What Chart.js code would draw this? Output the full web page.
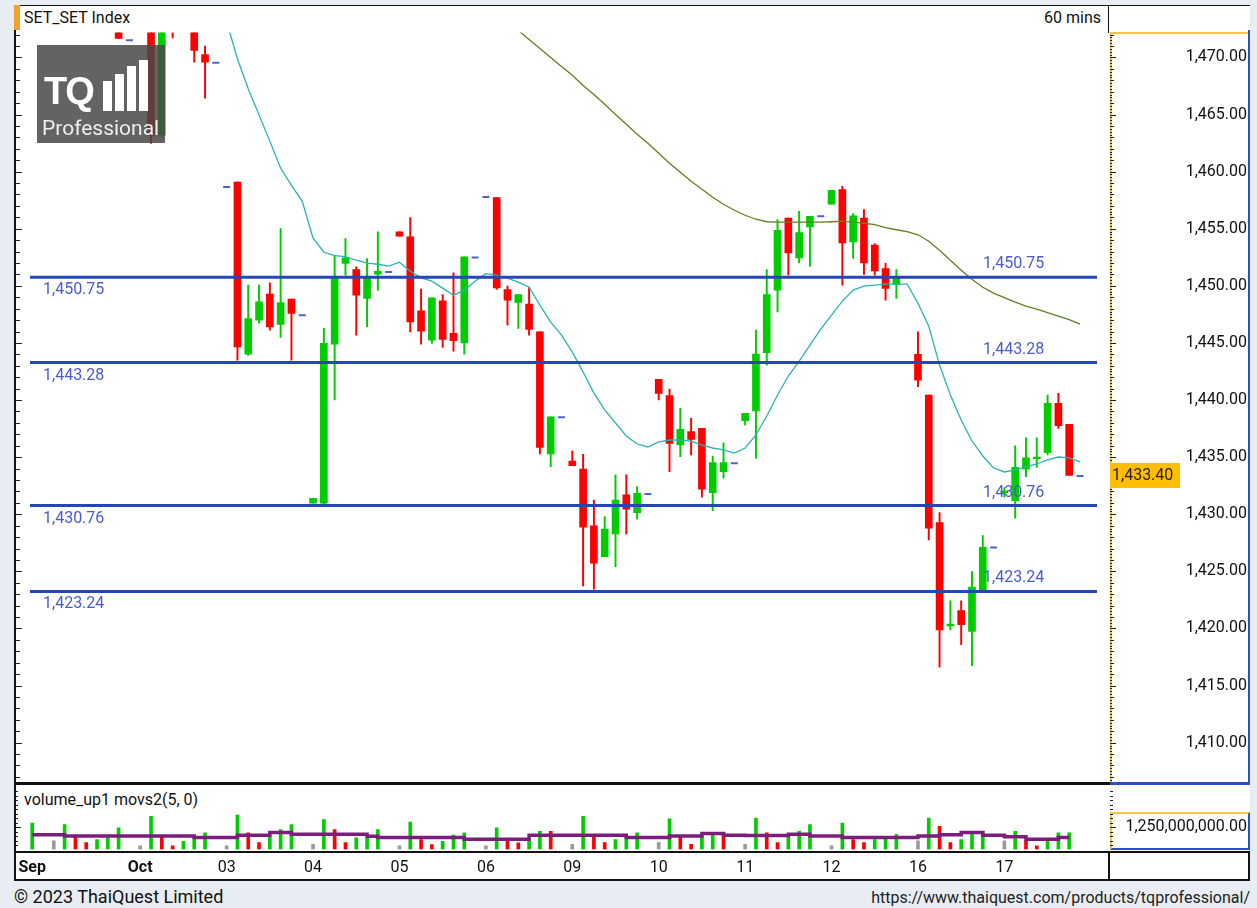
<!DOCTYPE html>
<html>
<head>
<meta charset="utf-8">
<title>SET_SET Index 60 mins</title>
<script src="https://cdn.jsdelivr.net/npm/chart.js@4.4.1/dist/chart.umd.min.js"></script>
<style>
  body{margin:0;width:1257px;height:908px;background:#e8edf4;font-family:Roboto,"Liberation Sans",Arial,sans-serif;position:relative;overflow:hidden;color:#111}
  .abs{position:absolute}
  #frame{left:14px;top:5px;width:1236px;height:876px;background:#fff;border-left:2px solid #111;border-top:1px solid #111;box-sizing:border-box}
  .txt{font-size:16px;line-height:20px;white-space:nowrap}
  #logo{left:37px;top:45px;width:128px;height:98px;background:rgba(72,72,72,0.85)}
  #logo .tq{position:absolute;left:7px;top:27px;font:bold 38px "Liberation Sans",Arial,sans-serif;color:#fff;letter-spacing:-2px;line-height:38px}
  #logo .pro{position:absolute;left:5px;top:71px;font-size:21px;line-height:24px;color:#eee}
  #logo .bar{position:absolute;background:#fff;width:9px}
</style>
</head>
<body>
<div id="frame" class="abs"></div>
<div class="abs" style="left:14px;top:5px;width:6px;height:25px;background:#f5a030"></div>
<div class="abs txt" style="left:24px;top:8px">SET_SET Index</div>
<div class="abs txt" style="left:1000px;top:8px;width:101px;text-align:right">60 mins</div>
<div class="abs" style="left:1108px;top:5px;width:1px;height:28px;background:#111"></div>
<div class="abs" style="left:1110px;top:32px;width:140px;height:2px;background:#f3c64a"></div>
<div class="abs" style="left:1110px;top:32px;width:2px;height:750px;background:#f3c64a"></div>
<div class="abs" style="left:1248px;top:30px;width:2px;height:752px;background:#2b4fc4"></div>
<div class="abs" style="left:14px;top:782px;width:1096px;height:3px;background:#111"></div>
<div class="abs" style="left:1110px;top:782px;width:140px;height:3px;background:#2b4fc4"></div>
<div class="abs" style="left:1110px;top:812px;width:140px;height:38px;box-sizing:border-box;border-top:2px solid #f3c64a;border-left:2px solid #f3c64a;border-right:2px solid #2b4fc4;border-bottom:2px solid #2b4fc4"></div>
<div class="abs" style="left:14px;top:851px;width:1236px;height:2px;background:#111"></div>
<div class="abs" style="left:14px;top:879px;width:1236px;height:2px;background:#111"></div>
<div class="abs" style="left:1108px;top:851px;width:2px;height:29px;background:#111"></div>
<div class="abs" style="left:1248px;top:851px;width:2px;height:29px;background:#111"></div>
<div class="abs txt" style="left:24px;top:790px">volume_up1 movs2(5, 0)</div>

<div class="abs" style="left:16px;top:32px;width:1231px;height:750px"><canvas id="priceChart" width="1231" height="750"></canvas></div>
<div class="abs" style="left:16px;top:788px;width:1231px;height:92px"><canvas id="volChart" width="1231" height="92"></canvas></div>

<div id="logo" class="abs">
  <div class="bar" style="left:66px;top:36px;height:30px"></div>
  <div class="bar" style="left:78px;top:29px;height:37px"></div>
  <div class="bar" style="left:90px;top:21px;height:45px"></div>
  <div class="bar" style="left:102px;top:15px;height:51px"></div>
  <div class="tq">TQ</div>
  <div class="pro">Professional</div>
</div>

<div class="abs" style="left:14px;top:886px;font-size:18px;line-height:22px">© 2023 ThaiQuest Limited</div>
<div class="abs txt" style="left:850px;top:888px;width:400px;text-align:right;color:#222">https://www.thaiquest.com/products/tqprofessional/</div>

<script>
// ---------- DATA (60-min bars, 8 slots per trading day) ----------
const SLOTS = 8;
const days = ['28 Sep','29 Sep','02 Oct','03 Oct','04 Oct','05 Oct','06 Oct','09 Oct','10 Oct','11 Oct','12 Oct','16 Oct','17 Oct','18 Oct'];
const dayTick     = ['Sep','','Oct','03','04','05','06','09','10','11','12','16','17',''];
const dayTickSlot = [6,0,0,0,0,0,0,0,0,0,0,0,0,0];
const monthTicks = ['Sep','Oct'];

const opens = [
  [null,null,null,null,null,null,1478.6,null],
  [1479.0,1478.4,1476.8,1475.9,1475.0,1475.8,1473.0,null],
  [null,1472.9,1463.2,1475.2,1473.9,1473.2,1470.24,null],
  [null,1459.09,1444.02,1447.0,1449.27,1446.62,1448.83,null],
  [1430.96,1430.96,1444.9,1451.96,1451.43,1448.89,1451.02,null],
  [1454.72,1454.28,1447.81,1445.25,1448.68,1445.83,1445.01,null],
  [null,1457.73,1449.68,1448.54,1448.40,1445.97,1435.28,null],
  [1434.66,1433.96,1428.98,1426.29,1428.28,1431.69,1430.14,null],
  [1441.81,1440.38,1436.06,1437.23,1437.52,1431.89,1433.73,null],
  [1438.19,1439.04,1444.14,1449.62,1455.94,1452.45,1455.16,null],
  [1457.14,1458.43,1453.85,1455.94,1453.56,1451.52,1450.12,null],
  [1444.0,1440.44,1429.27,1420.23,1421.57,1419.73,1423.38,null],
  [1431.89,1431.19,1433.94,1434.87,1435.39,1439.71,1437.87,null]
];
const highs = [
  [null,null,null,null,null,null,1480.2,null],
  [1479.2,1479.0,1477.5,1476.4,1476.2,1476.0,1473.5,null],
  [null,1473.4,1474.6,1475.8,1474.6,1473.6,1470.99,null],
  [null,1459.1,1450.06,1450.06,1450.26,1455.02,1448.83,null],
  [1431.4,1446.27,1452.68,1454.14,1451.66,1452.39,1454.72,null],
  [1454.72,1455.98,1449.71,1448.95,1449.24,1451.13,1452.53,null],
  [null,1457.73,1449.97,1449.24,1449.86,1445.97,1438.54,null],
  [1435.54,1435.25,1431.25,1429.79,1433.44,1433.44,1432.42,null],
  [1441.81,1440.96,1439.27,1438.40,1437.52,1435.1,1436.26,null],
  [1438.84,1446.12,1451.43,1455.8,1455.94,1456.53,1456.09,null],
  [1458.37,1458.72,1456.33,1456.68,1453.7,1451.96,1451.43,null],
  [1445.97,1440.44,1430.14,1422.42,1422.42,1424.98,1428.13,null],
  [1432.33,1435.98,1436.7,1436.7,1440.44,1440.59,1437.87,null]
];
const lows = [
  [null,null,null,null,null,null,1477.9,null],
  [1478.0,1476.2,1475.3,1474.6,1474.5,1473.1,1471.66,null],
  [null,1462.48,1463.0,1471.7,1472.6,1469.59,1466.44,null],
  [null,1443.5,1443.9,1446.73,1446.12,1445.48,1443.5,null],
  [1430.96,1430.9,1440.0,1450.93,1445.68,1446.41,1449.62,null],
  [1454.34,1445.97,1444.9,1444.96,1444.61,1444.28,1444.02,null],
  [null,1449.68,1446.56,1446.27,1445.68,1435.28,1434.17,null],
  [1434.25,1423.73,1423.44,1426.29,1425.42,1428.28,1429.56,null],
  [1440.0,1433.73,1435.04,1435.19,1431.49,1430.32,1433.15,null],
  [1437.81,1434.9,1443.06,1447.72,1450.93,1452.01,1451.72,null],
  [1457.14,1450.06,1452.39,1450.99,1450.93,1448.75,1448.89,null],
  [1441.16,1427.76,1416.62,1419.88,1418.57,1416.73,1423.38,null],
  [1431.49,1429.65,1433.29,1434.11,1435.19,1437.52,1433.44,null]
];
const closes = [
  [null,null,null,null,null,null,1479.4,null],
  [1478.4,1476.8,1475.9,1475.0,1475.8,1473.4,1471.66,null],
  [null,1463.18,1474.0,1473.9,1473.2,1470.61,1469.59,null],
  [null,1444.66,1447.14,1448.6,1446.41,1448.54,1447.58,null],
  [1431.4,1444.96,1450.78,1452.45,1449.18,1450.78,1451.28,null],
  [1454.34,1446.85,1446.03,1448.95,1445.31,1445.19,1452.53,null],
  [null,1449.82,1448.75,1449.24,1446.18,1435.86,1438.54,null],
  [1434.25,1428.86,1425.71,1428.69,1431.25,1430.44,1431.84,null],
  [1440.58,1436.21,1437.44,1436.56,1432.19,1434.52,1434.52,null],
  [1438.84,1444.02,1449.24,1454.87,1452.88,1454.67,1456.09,null],
  [1458.37,1453.76,1456.12,1452.01,1451.31,1449.77,1450.7,null],
  [1441.75,1428.78,1419.88,1420.38,1420.32,1423.62,1427.11,null],
  [1431.95,1434.11,1434.95,1434.99,1439.71,1437.75,1433.40,null]
];
// single-price ticks at the pre-open slot and the closing slot of each day
const openTick  = [null,null,1472.8,1458.66,null,null,1457.78,null,null,null,null,null,null];
const closeTick = [null,1471.5,1469.54,1447.43,1451.22,1452.48,1438.49,1431.78,1434.46,1456.09,null,1427.08,1433.35];

// moving averages
const maFastStart = 23; // 02 Oct, last slot
const maFast = [1476.5,1473.15,1469.86,1467.26,1464.96,1462.67,1460.29,1458.8,1457.4,1454.17,1452.94,1452.64,1452.55,1452.24,1451.98,1451.89,1451.72,
  1452.07,1451.28,1450.7,1450.41,1449.8,1449.18,1449.62,1450.41,1451.06,1450.93,1450.67,1450.32,1449.88,1448.31,1446.82,1445.69,
  1444.2,1442.45,1440.61,1439.13,1437.99,1436.85,1436.15,1435.89,1436.33,1436.5,1436.5,1436.41,1436.06,1435.8,1435.63,1435.36,
  1435.8,1436.94,1438.6,1440.44,1442.1,1443.41,1444.81,1446.21,1447.43,1448.66,1449.62,1449.97,1450.06,1450.15,1450.15,1450.15,
  1448.48,1446.47,1443.06,1440.44,1438.25,1436.41,1435.1,1434.05,1433.7,1433.88,1434.14,1434.4,1434.75,1435.01,1434.93,1434.58];
const maSlowStart = 50; // 06 Oct, slot 2
const maSlow = [1473.2,1472.36,1471.57,1470.79,1470.0,1469.21,1468.43,1467.55,1466.76,1465.89,1465.01,1464.14,1463.27,1462.48,
  1461.6,1460.73,1459.94,1459.15,1458.45,1457.75,1457.14,1456.62,1456.18,1455.83,1455.61,1455.57,1455.57,1455.57,1455.57,1455.57,
  1455.61,1455.66,1455.57,1455.48,1455.35,1455.09,1454.91,1454.74,1454.47,1453.91,1453.12,1452.24,1451.37,1450.58,1449.88,1449.36,
  1448.96,1448.57,1448.22,1447.96,1447.65,1447.35,1447.04,1446.65];

const levels = [1450.75, 1443.28, 1430.76, 1423.24];

// volume (millions of shares) and its colour code: n = neutral, g = green, r = red
const volumes = [
  [null,null,null,null,null,null,1480,null],
  [480,1390,710,390,560,710,1210,null],
  [210,1850,710,210,460,710,930,null],
  [210,1930,930,390,710,1110,1390,null],
  [290,1670,1110,390,650,650,1110,null],
  [210,1540,560,280,460,800,930,null],
  [210,1210,480,370,480,1020,1020,null],
  [290,1850,710,390,560,740,930,null],
  [390,1720,710,290,740,830,930,null],
  [290,1760,930,390,710,1020,1390,null],
  [210,1480,560,390,560,740,830,null],
  [480,1760,1300,390,560,1020,1020,null],
  [480,1020,480,210,480,930,930,null]
];
const volColor = ['------g-','ngrrggg-','ngrrggg-','ngrrggg-','ngrrggg-','ngrrggg-','ngrrggr-','ngrrggg-','ngrrggr-','ngrrggg-','ngrrggg-','ngrrggg-','ngrrggg-'];
const volAvg = [
  [null,null,null,null,null,null,830,null],
  [830,760,760,760,760,760,760,null],
  [760,760,760,760,760,670,670,null],
  [670,800,800,800,950,950,850,null],
  [850,850,850,850,850,740,670,null],
  [670,670,670,670,670,670,570,null],
  [570,570,570,570,800,800,800,null],
  [800,800,800,800,800,670,670,null],
  [670,760,760,760,890,890,800,null],
  [780,780,780,780,850,850,760,null],
  [760,670,670,670,670,670,670,null],
  [760,760,830,830,950,950,800,null],
  [710,710,570,570,570,670,670,null]
];
const volScaleLabel = 1250; // millions -> 1,250,000,000.00

// ---------- HELPERS ----------
const UP = '#00cc00', DOWN = '#ff0000', FLAT = '#9a9a9a';
const labels = [];
days.forEach(d => { for (let s = 0; s < SLOTS; s++) labels.push(d + ' #' + s); });
const flat = rows => { const out = []; rows.forEach(r => out.push(...r)); while (out.length < labels.length) out.push(null); return out; };
const pad = (start, arr) => { const out = labels.map(() => null); arr.forEach((v, i) => out[start + i] = v); return out; };
const fmt = v => v.toLocaleString('en-US', {minimumFractionDigits: 2, maximumFractionDigits: 2});

const O = flat(opens), H = flat(highs), L = flat(lows), C = flat(closes);
const bodies = O.map((o, i) => o == null ? null : [o, C[i]]);
const wicks = L.map((l, i) => l == null ? null : [l, H[i]]);
const candleColor = ctx => { const i = ctx.dataIndex; return C[i] >= O[i] ? UP : DOWN; };
const dashes = labels.map(() => null);
openTick.forEach((v, d) => { if (v != null) dashes[d * SLOTS] = v; });
closeTick.forEach((v, d) => { if (v != null) dashes[d * SLOTS + 7] = v; });
const vol = flat(volumes), volMA = flat(volAvg);
const volCol = flat(volColor.map(s => s.split('')));
const axisText = labels.map(() => '');
dayTick.forEach((t, d) => { if (t) axisText[d * SLOTS + dayTickSlot[d]] = t; });
const lastClose = C.filter(v => v != null).pop();

const X_MIN = labels[5], X_MAX = labels[105];
Chart.defaults.font.family = 'Roboto, "Liberation Sans", sans-serif';
Chart.defaults.color = '#111';

// ---------- PRICE PANEL ----------
const pricePlugin = {
  id: 'priceDecor',
  afterDatasetsDraw(chart) {
    const {ctx, chartArea: a, scales: {y}} = chart;
    ctx.save();
    ctx.strokeStyle = '#2645b8'; ctx.lineWidth = 3;
    ctx.font = '16px Roboto'; ctx.fillStyle = '#4a5bd0'; ctx.textBaseline = 'middle';
    levels.forEach(v => {
      const py = y.getPixelForValue(v);
      ctx.beginPath(); ctx.moveTo(a.left + 14, py); ctx.lineTo(a.right - 10, py); ctx.stroke();
      ctx.fillText(fmt(v), a.left + 27, py + 13);
      ctx.fillText(fmt(v), a.left + 967, py - 13);
    });
    ctx.restore();
  },
  afterDraw(chart) {
    const {ctx, chartArea: a, scales: {y}} = chart;
    ctx.save();
    ctx.strokeStyle = '#222'; ctx.lineWidth = 1;
    for (let v = Math.ceil(y.min * 4) / 4; v <= y.max; v += 0.25) {
      const py = Math.round(y.getPixelForValue(v)) + 0.5;
      const whole = Math.abs(v - Math.round(v)) < 1e-6, five = whole && Math.round(v) % 5 === 0;
      ctx.beginPath();
      if (whole) { ctx.moveTo(a.left - 1, py); ctx.lineTo(a.left + (five ? 6 : 4), py); }
      ctx.moveTo(a.right + 3, py); ctx.lineTo(a.right + 3 + (five ? 6 : whole ? 4 : 2), py);
      ctx.stroke();
    }
    const py = y.getPixelForValue(lastClose);
    ctx.fillStyle = '#ffbe00'; ctx.fillRect(a.right + 3, py - 12.5, 70, 25);
    ctx.fillStyle = '#2a2000'; ctx.font = '16px Roboto'; ctx.textBaseline = 'middle';
    ctx.fillText(fmt(lastClose), a.right + 5, py + 1);
    ctx.restore();
  }
};

const priceChart = new Chart(document.getElementById('priceChart'), {
  type: 'bar',
  data: {
    labels,
    datasets: [
      {type: 'line', data: dashes, showLine: false, pointStyle: 'line', pointRadius: 3.5, pointBorderWidth: 2,
        borderColor: '#4a66c8', order: 0},
      {type: 'line', data: pad(maFastStart, maFast), borderColor: '#2ab3b3', borderWidth: 1.3, pointRadius: 0, order: 1},
      {type: 'line', data: pad(maSlowStart, maSlow), borderColor: '#61801f', borderWidth: 1.3, pointRadius: 0, order: 1},
      {data: bodies, backgroundColor: candleColor, barThickness: 7, minBarLength: 1.5, grouped: false, order: 2},
      {data: wicks, backgroundColor: candleColor, barThickness: 1.3, grouped: false, order: 3}
    ]
  },
  options: {
    responsive: false,
    animation: false,
    events: [],
    layout: {padding: 0, autoPadding: false},
    plugins: {legend: {display: false}, tooltip: {enabled: false}},
    scales: {
      x: {display: false, min: X_MIN, max: X_MAX},
      y: {
        position: 'right', min: 1406.59, max: 1472.19,
        grid: {display: false}, border: {display: false},
        ticks: {stepSize: 5, padding: 0, crossAlign: 'far', color: '#111',
          font: {size: 16, lineHeight: 0.05},
          callback: v => Math.abs(v / 5 - Math.round(v / 5)) < 1e-6 ? fmt(v) : ''},
        afterFit: s => { s.width = 140; }
      }
    }
  },
  plugins: [pricePlugin]
});

// ---------- VOLUME PANEL ----------
const volPlugin = {
  id: 'volDecor',
  afterDraw(chart) {
    const {ctx, chartArea: a, scales: {y}} = chart;
    ctx.save();
    ctx.strokeStyle = '#222'; ctx.lineWidth = 1;
    for (let v = 250; v <= y.max; v += 250) {
      const py = Math.round(y.getPixelForValue(v)) + 0.5;
      const len = v === volScaleLabel ? 6 : 3;
      ctx.beginPath();
      ctx.moveTo(a.left - 1, py); ctx.lineTo(a.left - 1 + len, py);
      ctx.moveTo(a.right + 3, py); ctx.lineTo(a.right + 3 + len, py);
      ctx.stroke();
    }
    ctx.restore();
  }
};

new Chart(document.getElementById('volChart'), {
  type: 'bar',
  data: {
    labels,
    datasets: [
      {type: 'line', data: volMA, stepped: true, spanGaps: true, borderColor: '#7c1c7c', borderWidth: 3.5, pointRadius: 0, order: 0},
      {data: vol, barThickness: 3, order: 1,
        backgroundColor: ctx => ({g: UP, r: DOWN, n: FLAT})[volCol[ctx.dataIndex]] || FLAT}
    ]
  },
  options: {
    responsive: false,
    animation: false,
    events: [],
    layout: {padding: 0, autoPadding: false},
    plugins: {legend: {display: false}, tooltip: {enabled: false}},
    scales: {
      x: {
        min: X_MIN, max: X_MAX,
        grid: {display: false, drawTicks: false}, border: {display: false},
        ticks: {autoSkip: false, maxRotation: 0, minRotation: 0, padding: 0, color: '#111',
          font: c => ({size: 16, lineHeight: 2.3125,
            weight: c.tick && monthTicks.includes(axisText[c.tick.value]) ? 'bold' : 'normal'}),
          callback: v => axisText[v]},
        afterFit: s => { s.height = 30.5; }
      },
      y: {
        position: 'right', min: 0, max: 3417,
        grid: {display: false}, border: {display: false},
        afterBuildTicks: s => { s.ticks = [{value: volScaleLabel}]; },
        ticks: {padding: 0, crossAlign: 'far', color: '#111', autoSkip: false,
          font: {size: 16, lineHeight: 0.05},
          callback: v => fmt(v * 1e6)},
        afterFit: s => { s.width = 140; }
      }
    }
  },
  plugins: [volPlugin]
});
</script>
</body>
</html>
